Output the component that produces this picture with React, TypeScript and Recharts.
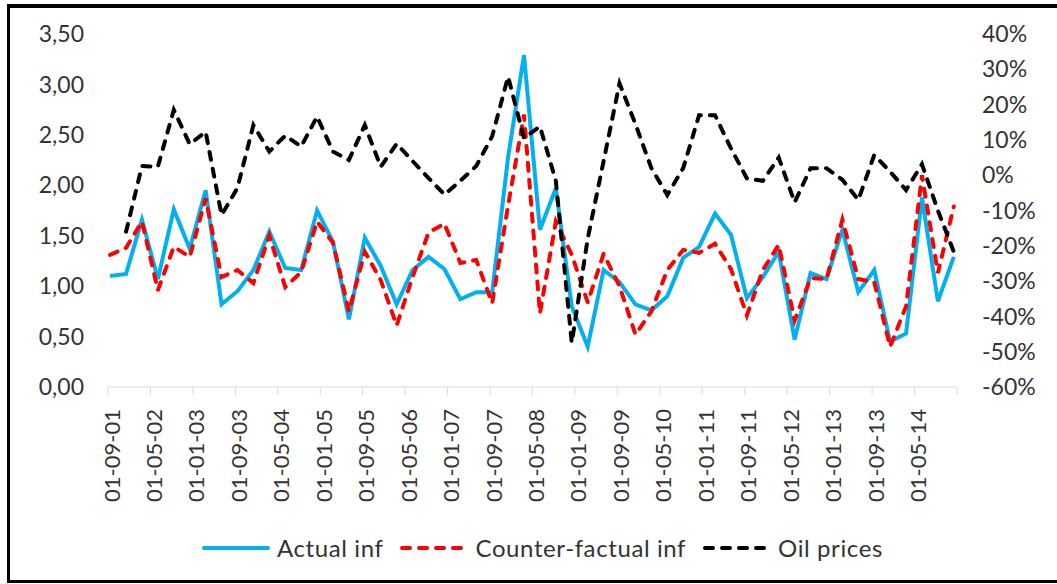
import React from 'react';
import { LineChart, Line, XAxis, YAxis, Legend } from 'recharts';

// Axis tick labels (every 8 months, date axis) and their month offsets from 01-09-01
const tickLabels = [
  '01-09-01', '01-05-02', '01-01-03', '01-09-03', '01-05-04', '01-01-05', '01-09-05',
  '01-05-06', '01-01-07', '01-09-07', '01-05-08', '01-01-09', '01-09-09', '01-05-10',
  '01-01-11', '01-09-11', '01-05-12', '01-01-13', '01-09-13', '01-05-14', '',
];
const tickMonths = [0, 8, 16, 24, 32, 40, 48, 56, 64, 72, 80, 88, 96, 104, 112, 120, 128, 136, 144, 152, 160];

// Quarterly observations
const actualInf = [
  1.10, 1.12, 1.66, 1.07, 1.76, 1.37, 1.95, 0.82, 0.95, 1.16,
  1.54, 1.18, 1.16, 1.75, 1.44, 0.67, 1.48, 1.20, 0.82, 1.16,
  1.29, 1.17, 0.87, 0.94, 0.94, 2.28, 3.29, 1.56, 1.97, 0.80,
  0.40, 1.16, 1.04, 0.82, 0.76, 0.90, 1.28, 1.39, 1.72, 1.51,
  0.88, 1.09, 1.34, 0.47, 1.13, 1.07, 1.56, 0.94, 1.16, 0.45,
  0.53, 1.88, 0.85, 1.29,
];
const counterfactualInf = [
  1.31, 1.38, 1.64, 0.96, 1.39, 1.29, 1.87, 1.09, 1.16, 1.03,
  1.50, 0.99, 1.14, 1.64, 1.43, 0.75, 1.34, 1.06, 0.61, 1.09,
  1.53, 1.62, 1.23, 1.26, 0.83, 1.80, 2.70, 0.73, 1.64, 1.31,
  0.84, 1.32, 1.00, 0.52, 0.75, 1.16, 1.36, 1.33, 1.42, 1.17,
  0.71, 1.16, 1.41, 0.66, 1.08, 1.07, 1.66, 1.07, 1.04, 0.40,
  0.80, 2.10, 1.13, 1.79,
];
const oilPrices = [
  null, -16.0, 2.6, 2.4, 18.5, 8.8, 12.3, -11.3, -3.6, 14.2,
  6.7, 11.2, 8.1, 16.6, 6.7, 4.3, 14.2, 2.4, 8.9, 4.0,
  -0.8, -5.5, -1.6, 2.6, 11.0, 27.9, 10.5, 13.8, -1.6, -47.5,
  -18.0, 4.0, 26.0, 14.5, 2.0, -5.6, 2.0, 17.0, 17.0, 7.6,
  -0.9, -1.6, 5.0, -7.7, 2.0, 2.0, -1.3, -7.0, 5.7, 1.0,
  -4.2, 3.1, -10.0, -21.7,
];

const leftTicks = [0, 0.5, 1, 1.5, 2, 2.5, 3, 3.5];
const rightTicks = [-60, -50, -40, -30, -20, -10, 0, 10, 20, 30, 40];

// observation month offset (quarterly, mid-month)
const data = actualInf.map((v, i) => ({
  m: 0.4 + 3 * i,
  actual: v,
  counter: counterfactualInf[i],
  oil: oilPrices[i],
}));

const FONT = 'Lato, "Open Sans", sans-serif';
const TEXT = '#333333';
const dashes: Record<string, string | undefined> = {
  actual: undefined,
  counter: '8 9',
  oil: '8 9',
};

const XTick = (props: any) => {
  const { x, y, payload } = props;
  const idx = tickMonths.indexOf(payload.value);
  const label = idx >= 0 ? tickLabels[idx] : '';
  return (
    <text
      transform={`translate(${x + 3},${y + 12}) rotate(-90)`}
      textAnchor="end"
      dominantBaseline="central"
      fontSize={22}
      fill={TEXT}
      fontFamily={FONT}
    >
      {label}
    </text>
  );
};

const renderLegend = (props: any) => {
  const items = props.payload || [];
  return (
    <div
      style={{
        display: 'flex',
        alignItems: 'center',
        paddingLeft: 202,
        fontFamily: FONT,
        fontSize: 24,
        color: TEXT,
        whiteSpace: 'nowrap',
      }}
    >
      {items.map((it: any) => (
        <div key={it.value} style={{ display: 'flex', alignItems: 'center', marginRight: 17 }}>
          <svg width={68} height={10}>
            <line
              x1={2}
              y1={5}
              x2={66}
              y2={5}
              stroke={it.color}
              strokeWidth={4}
              strokeDasharray={dashes[it.dataKey]}
              strokeLinecap="round"
            />
          </svg>
          <span style={{ marginLeft: 7, letterSpacing: 0.6 }}>{it.value}</span>
        </div>
      ))}
    </div>
  );
};

export default function App() {
  return (
    <div style={{ position: 'absolute', left: 0, top: 0, width: 1057, height: 584, background: '#fff' }}>
      <div
        style={{
          position: 'absolute',
          left: 7,
          top: 4,
          width: 1050,
          height: 579,
          boxSizing: 'border-box',
          borderTop: '4px solid #000',
          borderLeft: '3px solid #000',
          borderBottom: '3px solid #000',
        }}
      />
      <div style={{ position: 'absolute', left: 0, top: 0 }}>
        <LineChart
          width={1057}
          height={584}
          data={data}
          margin={{ top: 34, right: 20, bottom: 97, left: 48 }}
          style={{ fontFamily: FONT }}
        >
          <XAxis
            dataKey="m"
            type="number"
            domain={[0, 160]}
            ticks={tickMonths}
            interval={0}
            height={100}
            tick={<XTick />}
            tickSize={8}
            stroke="#D9D9D9"
            axisLine={{ stroke: '#D9D9D9', strokeWidth: 1 }}
            tickLine={{ stroke: '#D9D9D9', strokeWidth: 1 }}
            allowDataOverflow
          />
          <YAxis
            yAxisId="left"
            orientation="left"
            domain={[0, 3.5]}
            ticks={leftTicks}
            interval={0}
            width={60}
            axisLine={false}
            tickLine={false}
            tickSize={6}
            tickMargin={18}
            tick={{ fill: TEXT, fontSize: 23, fontFamily: FONT }}
            tickFormatter={(v: number) => v.toFixed(2).replace('.', ',')}
          />
          <YAxis
            yAxisId="right"
            orientation="right"
            domain={[-60, 40]}
            ticks={rightTicks}
            interval={0}
            width={80}
            axisLine={false}
            tickLine={false}
            tickSize={6}
            tickMargin={19}
            tick={{ fill: TEXT, fontSize: 23, fontFamily: FONT, textAnchor: 'start' }}
            tickFormatter={(v: number) => `${v}%`}
          />
          <Legend
            layout="vertical"
            verticalAlign="middle"
            align="center"
            wrapperStyle={{ position: 'absolute', left: 0, top: 533, width: 1057 }}
            content={renderLegend}
          />
          <Line
            yAxisId="left"
            dataKey="actual"
            name="Actual inf"
            type="linear"
            stroke="#00B0F0"
            strokeWidth={4}
            dot={false}
            activeDot={false}
            isAnimationActive={false}
          />
          <Line
            yAxisId="left"
            dataKey="counter"
            name="Counter-factual inf"
            type="linear"
            stroke="#FF0000"
            strokeWidth={4}
            strokeDasharray="8 9"
            strokeLinecap="round"
            dot={false}
            activeDot={false}
            isAnimationActive={false}
          />
          <Line
            yAxisId="right"
            dataKey="oil"
            name="Oil prices"
            type="linear"
            stroke="#000000"
            strokeWidth={4}
            strokeDasharray="8 9"
            strokeLinecap="round"
            dot={false}
            activeDot={false}
            isAnimationActive={false}
          />
        </LineChart>
      </div>
    </div>
  );
}
